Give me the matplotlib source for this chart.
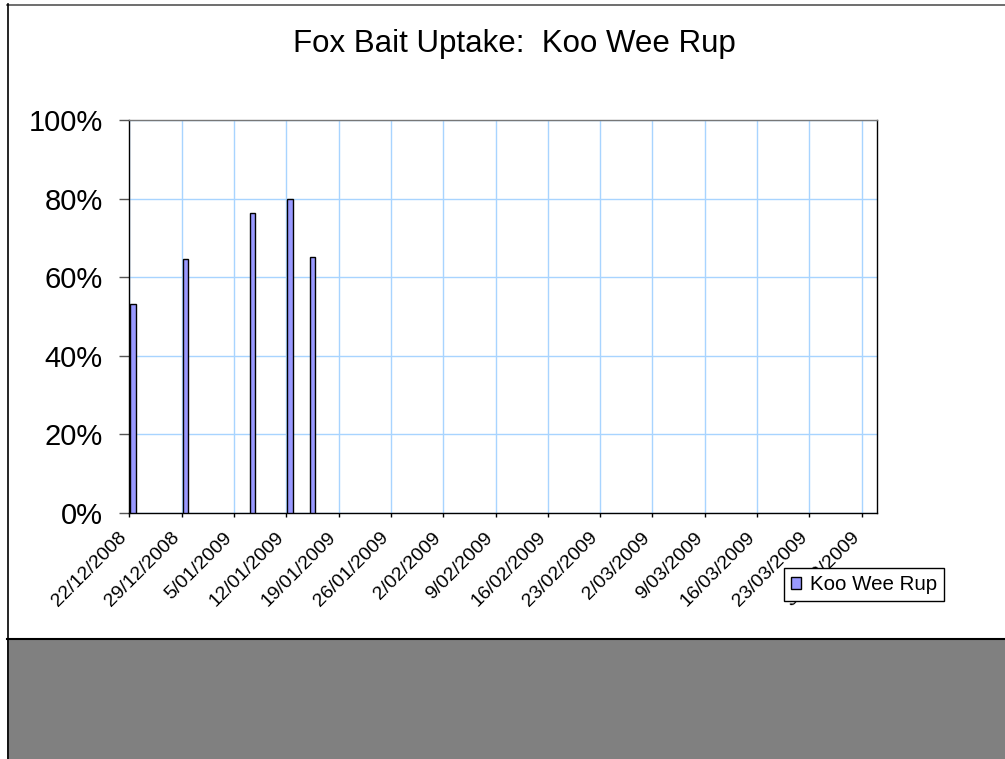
import datetime as dt
import matplotlib
matplotlib.use("Agg")
import matplotlib.pyplot as plt
import matplotlib.dates as mdates
from matplotlib.transforms import ScaledTranslation
from matplotlib.patches import Rectangle
from matplotlib.lines import Line2D

plt.rcParams['font.family'] = ['Liberation Sans', 'DejaVu Sans']

# data
survey_dates = [dt.date(2008, 12, 22), dt.date(2008, 12, 29), dt.date(2009, 1, 7),
                dt.date(2009, 1, 12), dt.date(2009, 1, 15)]
uptake = [53.3, 64.6, 76.4, 80.0, 65.1]
series_name = "Koo Wee Rup"

axis_start = dt.date(2008, 12, 22)
axis_end = dt.date(2009, 4, 1)
tick_dates = [axis_start + dt.timedelta(days=7 * k) for k in range(15)]
tick_labels = [f"{d.day}/{d.month:02d}/{d.year}" for d in tick_dates]
y_ticks = [0, 20, 40, 60, 80, 100]

W, H = 1005, 759
fig = plt.figure(figsize=(W / 100, H / 100), dpi=100)
fig.patch.set_facecolor('white')

# page frame + grey band at bottom
fig.add_artist(Rectangle((7 / W, 0), 1, 1 - 639 / H, transform=fig.transFigure,
                         facecolor='#808080', edgecolor='none'))
fig.add_artist(Line2D([7 / W, 1], [1 - 639 / H] * 2, transform=fig.transFigure,
                      color='black', lw=1.5))
fig.add_artist(Line2D([7 / W, 1], [1 - 4.5 / H] * 2, transform=fig.transFigure,
                      color='#555555', lw=1.2))
fig.add_artist(Line2D([7.5 / W] * 2, [0, 1 - 4 / H], transform=fig.transFigure,
                      color='black', lw=1.2))

ax = fig.add_axes([129.3 / W, 1 - 512.5 / H, (876.7 - 129.3) / W, (512.5 - 120.5) / H])

# bars sit in the middle of each day slot
bar_x = [mdates.date2num(d) + 0.5 for d in survey_dates]
ax.bar(bar_x, uptake, width=0.75, color='#9999FF', edgecolor='black',
       linewidth=1, label=series_name, zorder=3)

ax.set_xlim(mdates.date2num(axis_start), mdates.date2num(axis_end))
ax.set_ylim(0, 100)
ax.set_xticks([mdates.date2num(d) for d in tick_dates])
ax.set_xticklabels(tick_labels, rotation=45, ha='right', va='top',
                   rotation_mode='anchor', fontsize=14)
ax.set_yticks(y_ticks)
ax.set_yticklabels([f"{v}%" for v in y_ticks], fontsize=21)

ax.grid(True, color='#a8d4ff', lw=1, zorder=0)
ax.set_axisbelow(True)
ax.tick_params(axis='y', length=7, width=1, color='#555555', pad=12)
ax.tick_params(axis='x', length=3, width=1, color='black', pad=9)
for lab in ax.get_xticklabels():
    lab.set_transform(lab.get_transform() + ScaledTranslation(-0.11, 0, fig.dpi_scale_trans))

ax.spines['left'].set_color('black')
ax.spines['bottom'].set_color('black')
ax.spines['top'].set_color('#777777')
ax.spines['right'].set_color('black')
for s in ax.spines.values():
    s.set_linewidth(1)

fig.text(514 / W, 1 - 51.7 / H, "Fox Bait Uptake:  Koo Wee Rup", ha='center',
         va='baseline', fontsize=22.5)

leg = ax.legend(loc='upper left', bbox_to_anchor=(784 / W, 1 - 568 / H),
                bbox_transform=fig.transFigure, fontsize=14.8, frameon=True,
                fancybox=False, edgecolor='black', framealpha=1,
                handlelength=0.5, handleheight=0.5, handletextpad=0.4,
                borderpad=0.35, borderaxespad=0)
leg.get_frame().set_linewidth(1)

fig.savefig('out.png', dpi=100)
